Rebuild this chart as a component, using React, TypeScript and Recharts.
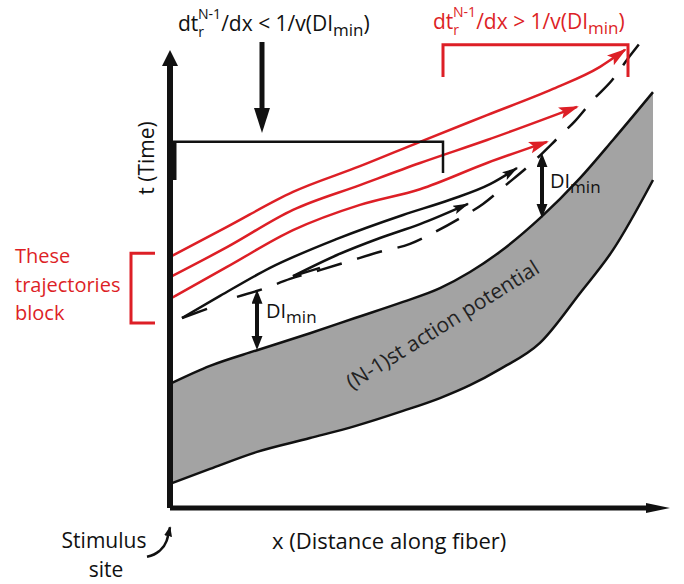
import { ComposedChart, Line, Area, XAxis, YAxis } from 'recharts';

// units: x = distance along fiber (0..100 on the drawn axis), t = time (0..100 on the drawn axis)
const X_DOMAIN = [-34, 102.8];
const T_DOMAIN = [-16.52, 110.43];

const RED = '#dd1f26';
const FONT = '"Open Sans", "Noto Sans", sans-serif';

const xAxisLine = [{ x: 0, t: 0 }, { x: 96.8, t: 0 }];
const tAxisLine = [{ x: 0, t: 0 }, { x: 0, t: 97.4 }];

// red trajectories (these block)
const redTopX = [0.4, 11.4, 24.6, 38, 50, 63.4, 76.6, 86, 91];
const redTopT = [54.8, 61.1, 68.7, 74.3, 79.6, 85.4, 91.1, 95.9, 99.6];
const redMidX = [0.4, 11.4, 24.6, 38, 50, 63.4, 81.4];
const redMidT = [50.4, 56.7, 64.8, 70.2, 75, 80, 87.2];
const redLowX = [0.4, 11.4, 24.6, 38, 50, 63.4, 75.4];
const redLowT = [45.7, 52.4, 60.4, 65.9, 69.3, 75, 79.6];

// black trajectories
const blackAX = [2.4, 10, 20, 33.4, 46.6, 56, 64, 69.4];
const blackAT = [41.3, 46.1, 52.2, 58.5, 63.7, 67, 70.4, 73.9];
const blackBX = [24.6, 33.4, 42, 50, 59.6];
const blackBT = [50.4, 55, 58.7, 61.7, 66.1];

// dashed boundary (AP + DImin)
const dashX = [13.4, 18.6, 24, 30, 36, 42, 48, 53, 58, 62.6, 67.4, 72, 78, 81, 84.6, 88.4, 92, 95.6];
const dashT = [45.9, 47.6, 49.8, 51.7, 53.7, 55.7, 57.4, 60, 63, 66.1, 70.4, 74.6, 80.9, 84.1, 88.7, 93, 98.3, 103.3];

// (N-1)st action potential band
const bandX = [0.4, 8, 17.4, 28, 37, 46.6, 54, 60, 66, 74, 82, 88.6, 96.6];
const bandLow = [5.4, 8.5, 12.2, 15.2, 17.8, 21.1, 23.9, 26.7, 30.2, 35.9, 46.7, 56.1, 71.3];
const bandHigh = [27.2, 30.9, 34.3, 38, 41.3, 44.8, 47.8, 51.3, 55.7, 63, 71.7, 80, 90.4];

// brackets and pointer arrows
const blackBracket = [{ x: 0.4, t: 71.3 }, { x: 0.4, t: 79.6 }, { x: 54.6, t: 79.6 }, { x: 54.6, t: 72.8 }];
const bracketFoot = [{ x: 0.4, t: 71.3 }, { x: 0.4, t: 79.6 }];
const redBracketTop = [{ x: 54.6, t: 93.7 }, { x: 54.6, t: 100.7 }, { x: 91.6, t: 100.7 }, { x: 91.6, t: 93.7 }];
const redBracketLeft = [{ x: -3, t: 55.4 }, { x: -7.8, t: 55.4 }, { x: -7.8, t: 40.2 }, { x: -3, t: 40.2 }];
const downArrow = [{ x: 18.4, t: 101.3 }, { x: 18.4, t: 84.8 }];
const diLeft = [{ x: 17.4, t: 45.7 }, { x: 17.4, t: 36.1 }];
const diRight = [{ x: 74.4, t: 75.4 }, { x: 74.4, t: 64.8 }];
const stimArrow = [{ x: -4.6, t: -10.6 }, { x: -2.2, t: -9.4 }, { x: -0.7, t: -7.2 }, { x: 0, t: -4.2 }];
const barbA = [{ x: 2.4, t: 41.3 }, { x: 7.4, t: 43.3 }];
const barbB = [{ x: 24.6, t: 50.4 }, { x: 30, t: 52.2 }];

const zip = (xs: number[], ts: number[]) => xs.map((x, i) => ({ x, t: ts[i] }));
const band = bandX.map((x, i) => ({ x, range: [bandLow[i], bandHigh[i]] }));

const lineProps = { dataKey: 't', dot: false, activeDot: false, isAnimationActive: false } as const;

export default function App() {
  return (
    <div style={{ position: 'absolute', left: 0, top: 0, width: 684, height: 584, background: '#fff' }}>
      <ComposedChart width={684} height={584} margin={{ top: 0, right: 0, bottom: 0, left: 0 }}>
        <defs>
          <marker id="headRed" markerUnits="userSpaceOnUse" markerWidth="22" markerHeight="14" refX="18" refY="6" orient="auto">
            <path d="M0,0 L20,6 L0,12 L4,6 Z" fill={RED} />
          </marker>
          <marker id="headBlack" markerUnits="userSpaceOnUse" markerWidth="18" markerHeight="12" refX="15" refY="4.5" orient="auto">
            <path d="M0,0 L16,4.5 L0,9 L3,4.5 Z" fill="#111" />
          </marker>
          <marker id="headTAxis" markerUnits="userSpaceOnUse" markerWidth="18" markerHeight="18" refX="6" refY="8" orient="auto">
            <path d="M0,0 L16,8 L0,16 Z" fill="#111" />
          </marker>
          <marker id="headXAxis" markerUnits="userSpaceOnUse" markerWidth="26" markerHeight="12" refX="8" refY="5" orient="auto">
            <path d="M0,0 L24,5 L0,10 Z" fill="#111" />
          </marker>
          <marker id="headDown" markerUnits="userSpaceOnUse" markerWidth="27" markerHeight="18" refX="10" refY="8" orient="auto">
            <path d="M0,0 L25,8 L0,16 Z" fill="#111" />
          </marker>
          <marker id="headDI" markerUnits="userSpaceOnUse" markerWidth="16" markerHeight="13" refX="6" refY="5.5" orient="auto-start-reverse">
            <path d="M0,0 L14,5.5 L0,11 Z" fill="#111" />
          </marker>
          <marker id="headStim" markerUnits="userSpaceOnUse" markerWidth="12" markerHeight="10" refX="9" refY="4" orient="auto">
            <path d="M0,0 L10,4 L0,8 Z" fill="#111" />
          </marker>
        </defs>
        <XAxis type="number" dataKey="x" domain={X_DOMAIN} allowDataOverflow hide />
        <YAxis type="number" dataKey="t" domain={T_DOMAIN} allowDataOverflow hide />

        <Area data={band} dataKey="range" type="monotone" fill="#a3a3a3" fillOpacity={1} stroke="#111" strokeWidth={2.5} isAnimationActive={false} dot={false} activeDot={false} />

        <Line {...lineProps} data={zip(dashX, dashT)} type="monotone" stroke="#111" strokeWidth={2.5} strokeDasharray="26 16" />
        <Line {...lineProps} data={zip(blackAX, blackAT)} type="monotone" stroke="#111" strokeWidth={2.5} markerEnd="url(#headBlack)" />
        <Line {...lineProps} data={zip(blackBX, blackBT)} type="monotone" stroke="#111" strokeWidth={2.5} markerEnd="url(#headBlack)" />
        <Line {...lineProps} data={barbA} type="linear" stroke="#111" strokeWidth={2.5} />
        <Line {...lineProps} data={barbB} type="linear" stroke="#111" strokeWidth={2.5} />

        <Line {...lineProps} data={zip(redTopX, redTopT)} type="monotone" stroke={RED} strokeWidth={2.5} markerEnd="url(#headRed)" />
        <Line {...lineProps} data={zip(redMidX, redMidT)} type="monotone" stroke={RED} strokeWidth={2.5} markerEnd="url(#headRed)" />
        <Line {...lineProps} data={zip(redLowX, redLowT)} type="monotone" stroke={RED} strokeWidth={2.5} markerEnd="url(#headRed)" />

        <Line {...lineProps} data={blackBracket} type="linear" stroke="#111" strokeWidth={2.5} />
        <Line {...lineProps} data={bracketFoot} type="linear" stroke="#111" strokeWidth={9} />
        <Line {...lineProps} data={redBracketTop} type="linear" stroke={RED} strokeWidth={3} />
        <Line {...lineProps} data={redBracketLeft} type="linear" stroke={RED} strokeWidth={3} />

        <Line {...lineProps} data={downArrow} type="linear" stroke="#111" strokeWidth={5} markerEnd="url(#headDown)" />
        <Line {...lineProps} data={diLeft} type="linear" stroke="#111" strokeWidth={4} markerStart="url(#headDI)" markerEnd="url(#headDI)" />
        <Line {...lineProps} data={diRight} type="linear" stroke="#111" strokeWidth={4} markerStart="url(#headDI)" markerEnd="url(#headDI)" />
        <Line {...lineProps} data={stimArrow} type="monotone" stroke="#111" strokeWidth={2.5} markerEnd="url(#headStim)" />

        <Line {...lineProps} data={xAxisLine} type="linear" stroke="#111" strokeWidth={5} markerEnd="url(#headXAxis)" />
        <Line {...lineProps} data={tAxisLine} type="linear" stroke="#111" strokeWidth={6} markerEnd="url(#headTAxis)" />
      </ComposedChart>

      {/* labels sit on top of the plot layers */}
      <svg width={684} height={584} style={{ position: 'absolute', left: 0, top: 0, pointerEvents: 'none' }} fontFamily={FONT}>
        <text x={178} y={31} fontSize={21} fill="#111">
          dt
          <tspan dy={6} fontSize={14}>r</tspan>
          <tspan dx={-6} dy={-18} fontSize={14}>N-1</tspan>
          <tspan dy={12}>{'/dx < 1/v(DI'}</tspan>
          <tspan dy={5} fontSize={17}>min</tspan>
          <tspan dy={-5}>)</tspan>
        </text>
        <text x={433} y={29} fontSize={21} fill={RED}>
          dt
          <tspan dy={6} fontSize={14}>r</tspan>
          <tspan dx={-6} dy={-18} fontSize={14}>N-1</tspan>
          <tspan dy={12}>{'/dx > 1/v(DI'}</tspan>
          <tspan dy={5} fontSize={17}>min</tspan>
          <tspan dy={-5}>)</tspan>
        </text>

        <text x={15} y={263} fontSize={20} fill={RED}>These</text>
        <text x={15} y={292} fontSize={20} fill={RED}>trajectories</text>
        <text x={15} y={320} fontSize={20} fill={RED}>block</text>

        <text x={266} y={318} fontSize={20} fill="#111">
          DI<tspan dy={5} fontSize={17}>min</tspan>
        </text>
        <text x={550} y={188} fontSize={20} fill="#111">
          DI<tspan dy={5} fontSize={17}>min</tspan>
        </text>

        <text x={352} y={390} fontSize={21} fill="#222" transform="rotate(-32 352 390)">
          (N-1)st action potential
        </text>

        <text x={154} y={158} fontSize={21} fill="#111" textAnchor="middle" transform="rotate(-90 154 158)">
          t (Time)
        </text>
        <text x={272} y={549} fontSize={22} fill="#111">x (Distance along fiber)</text>
        <text x={104} y={548} fontSize={21} fill="#111" textAnchor="middle">Stimulus</text>
        <text x={106} y={577} fontSize={21} fill="#111" textAnchor="middle">site</text>
      </svg>
    </div>
  );
}
